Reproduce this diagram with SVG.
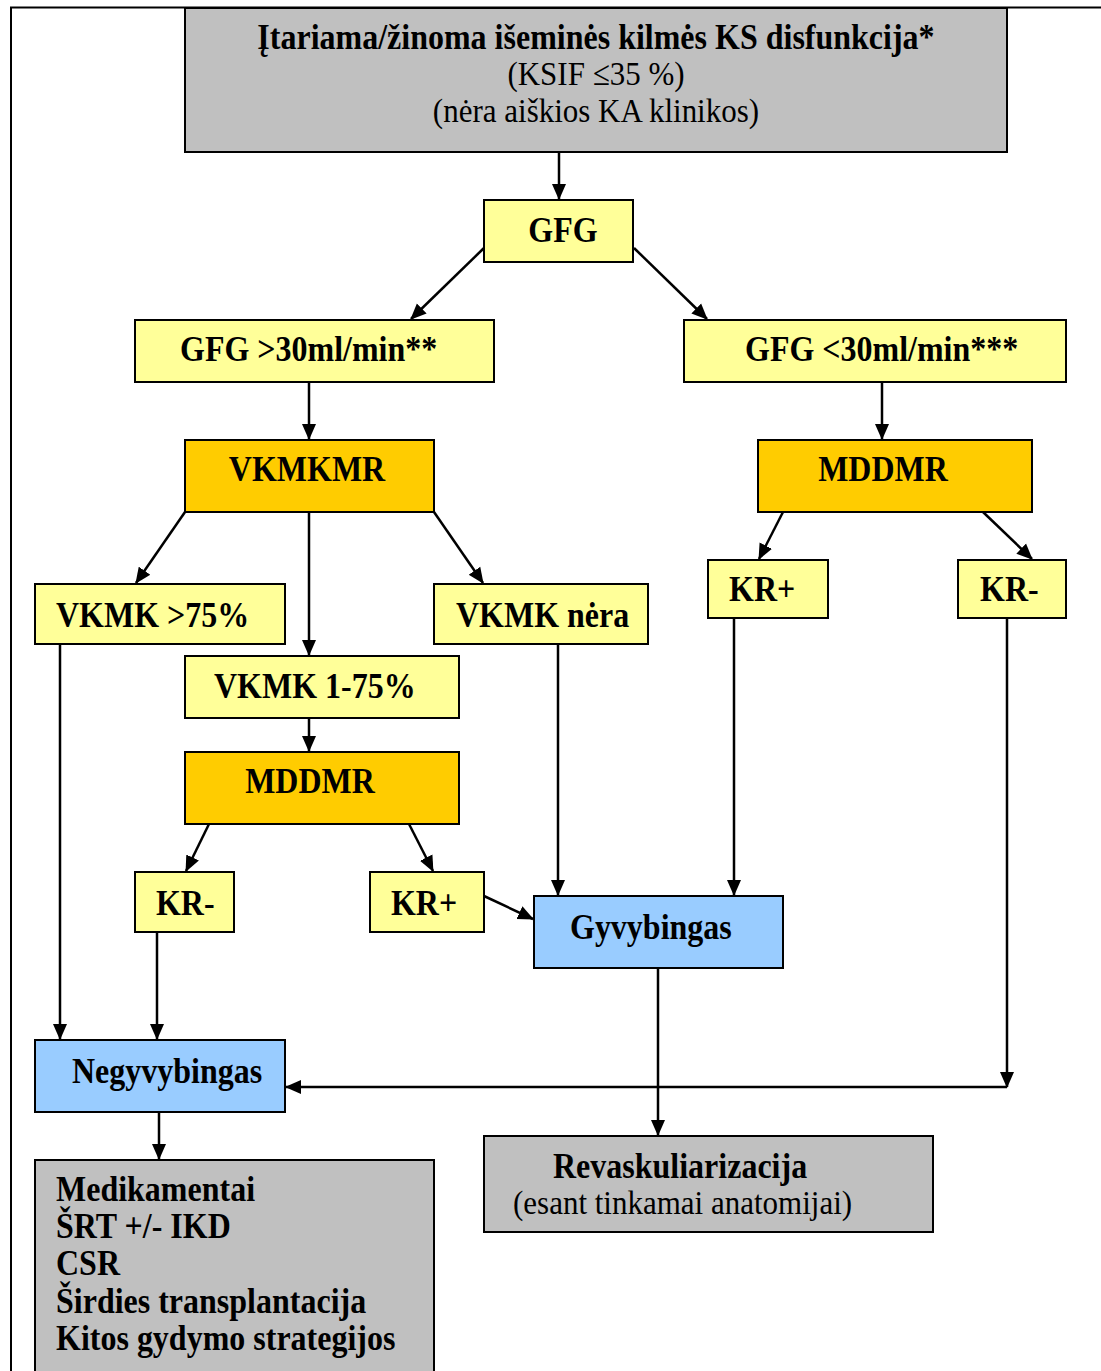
<svg xmlns="http://www.w3.org/2000/svg" width="1101" height="1371" viewBox="0 0 1101 1371">
  <style>
    .box { stroke: #000; stroke-width: 2; }
    .grey { fill: #C0C0C0; }
    .yel { fill: #FFFF99; }
    .org { fill: #FFCC00; }
    .blue { fill: #99CCFF; }
    text { transform-box: fill-box; transform-origin: 50% 50%; transform: scaleY(1.12); }
    .b { font-weight: bold; font-size: 32px; }
    .n { font-size: 31px; }
    .mid { text-anchor: middle; }
    .conn line { stroke: #000; stroke-width: 2.5; fill: none; marker-end: url(#arrow); }
  </style>
  <defs>
    <marker id="arrow" markerUnits="userSpaceOnUse" markerWidth="16" markerHeight="16" viewBox="0 0 16 16" refX="15" refY="8" orient="auto">
      <path d="M0,1 L16,8 L0,15 Z" fill="#000"/>
    </marker>
  </defs>
  <rect width="1101" height="1371" fill="#fff"/>

  <!-- page frame -->
  <polyline points="11,1371 11,7.5 1101,7.5" fill="none" stroke="#000" stroke-width="2"/>

  <g class="conn">
    <line x1="559" y1="153" x2="559" y2="199"/>
    <line x1="484" y1="248" x2="411" y2="319"/>
    <line x1="634" y1="248" x2="707" y2="319"/>
    <line x1="309" y1="382" x2="309" y2="439"/>
    <line x1="882" y1="382" x2="882" y2="439"/>
    <line x1="185" y1="512" x2="136" y2="583"/>
    <line x1="309" y1="512" x2="309" y2="655"/>
    <line x1="434" y1="512" x2="483" y2="583"/>
    <line x1="783" y1="512" x2="759" y2="559"/>
    <line x1="983" y1="512" x2="1032" y2="559"/>
    <line x1="309" y1="718" x2="309" y2="751"/>
    <line x1="209" y1="824" x2="186" y2="871"/>
    <line x1="409" y1="824" x2="433" y2="871"/>
    <line x1="484" y1="896" x2="533" y2="919"/>
    <line x1="558" y1="644" x2="558" y2="895"/>
    <line x1="734" y1="618" x2="734" y2="895"/>
    <line x1="60" y1="644" x2="60" y2="1039"/>
    <line x1="157" y1="932" x2="157" y2="1039"/>
    <line x1="1007" y1="618" x2="1007" y2="1087"/>
    <line x1="1007" y1="1087" x2="286" y2="1087"/>
    <line x1="159" y1="1112" x2="159" y2="1159"/>
    <line x1="658" y1="968" x2="658" y2="1135"/>
  </g>

  <g font-family="Liberation Serif, Times New Roman, serif" fill="#000">
  <g id="start">
    <rect class="box grey" x="185" y="8" width="822" height="144"/>
    <text class="b mid" x="596" y="48">Įtariama/žinoma išeminės kilmės KS disfunkcija*</text>
    <text class="n mid" x="596" y="84">(KSIF ≤35 %)</text>
    <text class="n mid" x="596" y="121">(nėra aiškios KA klinikos)</text>
  </g>
  <g id="gfg">
    <rect class="box yel" x="484" y="200" width="149" height="62"/>
    <text class="b mid" x="563" y="241">GFG</text>
  </g>
  <g id="gfg-hi">
    <rect class="box yel" x="135" y="320" width="359" height="62"/>
    <text class="b" x="180" y="360">GFG &gt;30ml/min**</text>
  </g>
  <g id="gfg-lo">
    <rect class="box yel" x="684" y="320" width="382" height="62"/>
    <text class="b" x="745" y="360">GFG &lt;30ml/min***</text>
  </g>
  <g id="vkmkmr">
    <rect class="box org" x="185" y="440" width="249" height="72"/>
    <text class="b mid" x="307" y="480">VKMKMR</text>
  </g>
  <g id="mddmr-right">
    <rect class="box org" x="758" y="440" width="274" height="72"/>
    <text class="b mid" x="883" y="480">MDDMR</text>
  </g>
  <g id="vkmk-75">
    <rect class="box yel" x="35" y="584" width="250" height="60"/>
    <text class="b" x="56" y="626">VKMK &gt;75%</text>
  </g>
  <g id="vkmk-none">
    <rect class="box yel" x="434" y="584" width="214" height="60"/>
    <text class="b" x="456" y="626">VKMK nėra</text>
  </g>
  <g id="kr-plus-right">
    <rect class="box yel" x="708" y="560" width="120" height="58"/>
    <text class="b" x="729" y="600">KR+</text>
  </g>
  <g id="kr-minus-right">
    <rect class="box yel" x="958" y="560" width="108" height="58"/>
    <text class="b" x="980" y="600">KR-</text>
  </g>
  <g id="vkmk-1-75">
    <rect class="box yel" x="185" y="656" width="274" height="62"/>
    <text class="b" x="214" y="697">VKMK 1-75%</text>
  </g>
  <g id="mddmr-left">
    <rect class="box org" x="185" y="752" width="274" height="72"/>
    <text class="b mid" x="310" y="792">MDDMR</text>
  </g>
  <g id="kr-minus-left">
    <rect class="box yel" x="135" y="872" width="99" height="60"/>
    <text class="b" x="156" y="914">KR-</text>
  </g>
  <g id="kr-plus-left">
    <rect class="box yel" x="370" y="872" width="114" height="60"/>
    <text class="b" x="391" y="914">KR+</text>
  </g>
  <g id="viable">
    <rect class="box blue" x="534" y="896" width="249" height="72"/>
    <text class="b" x="570" y="938">Gyvybingas</text>
  </g>
  <g id="nonviable">
    <rect class="box blue" x="35" y="1040" width="250" height="72"/>
    <text class="b" x="72" y="1082">Negyvybingas</text>
  </g>
  <g id="revasc">
    <rect class="box grey" x="484" y="1136" width="449" height="96"/>
    <text class="b" x="553" y="1177">Revaskuliarizacija</text>
    <text class="n" x="513" y="1213">(esant tinkamai anatomijai)</text>
  </g>
  <g id="therapy">
    <rect class="box grey" x="35" y="1160" width="399" height="220"/>
    <text class="b" x="56" y="1200">Medikamentai</text>
    <text class="b" x="56" y="1237">ŠRT +/- IKD</text>
    <text class="b" x="56" y="1274">CSR</text>
    <text class="b" x="56" y="1312">Širdies transplantacija</text>
    <text class="b" x="56" y="1349">Kitos gydymo strategijos</text>
  </g>
  </g>
</svg>
